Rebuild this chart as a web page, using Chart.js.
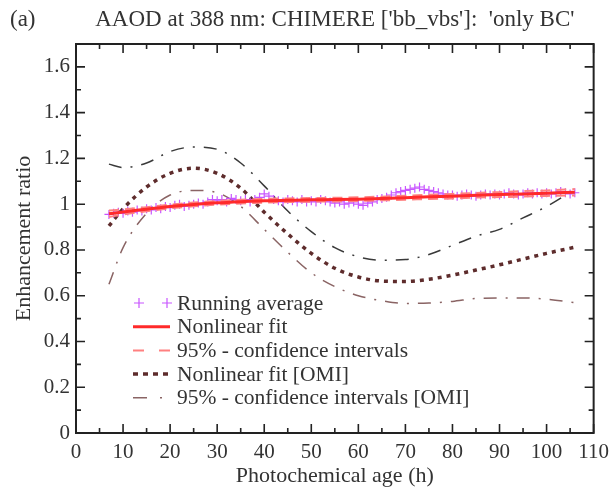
<!DOCTYPE html>
<html><head><meta charset="utf-8">
<script src="https://cdn.jsdelivr.net/npm/chart.js@4/dist/chart.umd.min.js"></script>
<style>html,body{margin:0;padding:0;background:#fff}#wrap{width:616px;height:489px}</style>
</head><body><div id="wrap"><canvas id="c" width="616" height="489"></canvas></div>
<script>
const xTicks = [0,10,20,30,40,50,60,70,80,90,100,110];
const yTicks = [0,0.2,0.4,0.6,0.8,1,1.2,1.4,1.6];

const runAgeX = [7,8,9,10,11,12,13,14,15,16,17,18,19,20,21,22,23,24,25,26,27,28,29,30,31,32,33,34,35,36,37,38,39,40,41,42,43,44,45,46,47,48,49,50,51,52,53,54,55,56,57,58,59,60,61,62,63,64,65,66,67,68,69,70,71,72,73,74,75,76,77,78,79,80,81,82,83,84,85,86,87,88,89,90,91,92,93,94,95,96,97,98,99,100,101,102,103,104,105,106];
const runAvg = [0.955,0.96,0.965,0.96,0.97,0.965,0.975,0.97,0.98,
 0.975,0.985,0.98,0.99,0.985,0.995,1.0,0.99,0.995,1.0,
 1.005,1.0,1.01,1.02,1.015,1.02,1.01,1.025,1.02,1.015,
 1.02,1.01,1.02,1.03,1.045,1.035,1.02,1.015,1.01,1.02,
 1.015,1.01,1.02,1.01,1.015,1.01,1.02,1.015,1.01,1.005,
 1.01,1.0,1.005,1.01,1.0,0.995,1.005,1.01,1.02,1.025,
 1.03,1.04,1.05,1.055,1.06,1.065,1.07,1.075,1.065,1.06,
 1.055,1.05,1.045,1.04,1.04,1.035,1.04,1.045,1.04,1.035,
 1.04,1.045,1.04,1.045,1.04,1.045,1.05,1.045,1.04,1.045,
 1.05,1.045,1.05,1.045,1.05,1.045,1.05,1.055,1.05,1.045,1.05];

const fitX = [7,10,15,20,25,30,35,40,45,50,55,60,65,70,75,80,85,90,95,100,106];
const fitVals = [0.958,0.966,0.978,0.99,0.999,1.006,1.011,1.015,1.017,1.019,1.02,1.022,1.025,1.028,1.032,1.035,1.039,1.042,1.045,1.048,1.052];
const fitUpper = [0.972,0.977,0.987,0.998,1.007,1.014,1.019,1.023,1.025,1.027,1.028,1.030,1.033,1.037,1.041,1.045,1.049,1.053,1.057,1.060,1.066];
const fitLower = [0.944,0.955,0.969,0.982,0.991,0.998,1.003,1.007,1.009,1.011,1.012,1.014,1.017,1.019,1.023,1.025,1.029,1.031,1.033,1.036,1.038];
const omiFit = [0.905,0.98,1.075,1.135,1.157,1.135,1.07,0.965,0.87,0.785,0.72,0.682,0.664,0.662,0.672,0.69,0.712,0.735,0.76,0.785,0.812];
const omiUpper = [1.175,1.16,1.18,1.23,1.25,1.24,1.18,1.08,0.97,0.88,0.81,0.77,0.755,0.758,0.78,0.82,0.86,0.89,0.94,0.99,1.065];
const omiLower = [0.65,0.81,0.96,1.04,1.06,1.05,0.99,0.89,0.79,0.70,0.64,0.60,0.578,0.566,0.568,0.575,0.588,0.59,0.59,0.585,0.57];

const pts = (xs, ys) => xs.map((x,i)=>({x:x,y:ys[i]}));
const SERIF = '"Liberation Serif","DejaVu Serif",serif';
const TXT = '#333';

const C_PURPLE = '#c855ff';
const C_RED = '#ff2a2a';
const C_REDCI = '#ff8080';
const C_OMI = '#5e2c2c';
const C_OMIU = '#3a3a3a';
const C_OMIL = '#8a6464';

const frame = {
  id:'frame',
  afterDatasetsDraw(chart){
    const {ctx, chartArea:a, scales:{x,y}} = chart;
    ctx.save();
    ctx.strokeStyle = '#222';
    ctx.lineWidth = 2;
    ctx.strokeRect(a.left, a.top, a.right-a.left, a.bottom-a.top);
    ctx.lineWidth = 1.6;
    ctx.beginPath();
    for (let v=0; v<=110.001; v+=5){
      const p = x.getPixelForValue(v);
      const L = (Math.round(v)%10===0)?9:5;
      ctx.moveTo(p,a.bottom); ctx.lineTo(p,a.bottom-L);
      ctx.moveTo(p,a.top); ctx.lineTo(p,a.top+L);
    }
    for (let k=0; k<=17; k++){
      const v=k/10;
      const p = y.getPixelForValue(v);
      const L = (k%2===0)?9:5;
      ctx.moveTo(a.left,p); ctx.lineTo(a.left+L,p);
      ctx.moveTo(a.right,p); ctx.lineTo(a.right-L,p);
    }
    ctx.stroke();

    // title
    ctx.fillStyle = TXT;
    ctx.font = '23px '+SERIF;
    ctx.textBaseline = 'middle';
    ctx.textAlign = 'left';
    ctx.fillText('(a)', 10, 20);
    ctx.textAlign = 'center';
    ctx.fillText("AAOD at 388 nm: CHIMERE ['bb_vbs']:  'only BC'", (a.left+a.right)/2, 20);

    // legend
    const rows = [
      {t:'Running average', k:'cross'},
      {t:'Nonlinear fit', k:'solid'},
      {t:'95% - confidence intervals', k:'dash'},
      {t:'Nonlinear fit [OMI]', k:'dot'},
      {t:'95% - confidence intervals [OMI]', k:'dashdot'}
    ];
    const x0=133, x1=170, tx=177;
    ctx.font = '21.5px '+SERIF;
    ctx.textAlign='left';
    rows.forEach((r,i)=>{
      const yy = 303 + i*23.7;
      ctx.save();
      if (r.k==='cross'){
        ctx.strokeStyle=C_PURPLE; ctx.lineWidth=1.2;
        [139,167].forEach(cx=>{ctx.beginPath();ctx.moveTo(cx-5,yy);ctx.lineTo(cx+5,yy);ctx.moveTo(cx,yy-5);ctx.lineTo(cx,yy+5);ctx.stroke();});
      } else if (r.k==='solid'){
        ctx.strokeStyle=C_RED; ctx.lineWidth=3;
        ctx.beginPath();ctx.moveTo(x0,yy);ctx.lineTo(x1,yy);ctx.stroke();
      } else if (r.k==='dash'){
        ctx.strokeStyle=C_REDCI; ctx.lineWidth=2; ctx.setLineDash([11,15]);
        ctx.beginPath();ctx.moveTo(x0,yy);ctx.lineTo(x1,yy);ctx.stroke();
      } else if (r.k==='dot'){
        ctx.strokeStyle=C_OMI; ctx.lineWidth=3.5; ctx.setLineDash([5,5]);
        ctx.beginPath();ctx.moveTo(x0,yy);ctx.lineTo(x1,yy);ctx.stroke();
      } else {
        ctx.strokeStyle=C_OMIL; ctx.lineWidth=1.6; ctx.setLineDash([14,13,2,20]);
        ctx.beginPath();ctx.moveTo(x0,yy);ctx.lineTo(x1,yy);ctx.stroke();
      }
      ctx.restore();
      ctx.fillStyle=TXT;
      ctx.fillText(r.t, tx, yy+1);
    });
    ctx.restore();
  }
};

const lineDs = (label, xs, ys, color, width, dash, extra) => Object.assign({
  label, data: pts(xs,ys), borderColor: color, borderWidth: width, borderDash: dash,
  pointRadius: 0, fill: false, tension: 0.4, cubicInterpolationMode: 'monotone', showLine: true
}, extra||{});

new Chart(document.getElementById('c'), {
  type: 'scatter',
  data: { datasets: [
    lineDs('Nonlinear fit', fitX, fitVals, C_RED, 3, []),
    lineDs('95% - confidence intervals', fitX, fitUpper, C_REDCI, 2, [10,6]),
    lineDs('95% - confidence intervals (lower)', fitX, fitLower, C_REDCI, 2, [10,6]),
    { label:'Running average', data: pts(runAgeX, runAvg), showLine:false,
      pointStyle:'cross', pointRadius:4.5, borderColor:C_PURPLE, backgroundColor:C_PURPLE, borderWidth:1.2 },
    lineDs('Nonlinear fit [OMI]', fitX, omiFit, C_OMI, 3.5, [4,5]),
    lineDs('95% - confidence intervals [OMI] upper', fitX, omiUpper, C_OMIU, 1.5, [13,9,2,9]),
    lineDs('95% - confidence intervals [OMI]', fitX, omiLower, C_OMIL, 1.5, [13,9,2,9])
  ]},
  options: {
    responsive:false, animation:false, devicePixelRatio:1,
    layout:{ padding:{ top:44, right:19, left:0, bottom:0 } },
    plugins:{ legend:{display:false}, tooltip:{enabled:false}, title:{display:false} },
    scales:{
      x:{ type:'linear', min:0, max:110,
        afterBuildTicks(s){ s.ticks = xTicks.map(v=>({value:v})); },
        afterFit(s){ s.height = 56; },
        grid:{display:false, drawTicks:false}, border:{display:false},
        ticks:{ color:TXT, font:{family:SERIF, size:21}, padding:7, maxRotation:0, autoSkip:false, callback:v=>String(v) },
        title:{ display:true, text:'Photochemical age (h)', color:TXT, font:{family:SERIF, size:22}, padding:{top:0,bottom:0} }
      },
      y:{ type:'linear', min:0, max:1.7,
        afterBuildTicks(s){ s.ticks = yTicks.map(v=>({value:v})); },
        afterFit(s){ s.width = 76; },
        grid:{display:false, drawTicks:false}, border:{display:false},
        ticks:{ color:TXT, font:{family:SERIF, size:21}, padding:6, autoSkip:false, callback:v=>String(+v.toFixed(1)) },
        title:{ display:true, text:'Enhancement ratio', color:TXT, font:{family:SERIF, size:22}, padding:{top:11,bottom:0} }
      }
    }
  },
  plugins:[frame]
});
</script></body></html>
